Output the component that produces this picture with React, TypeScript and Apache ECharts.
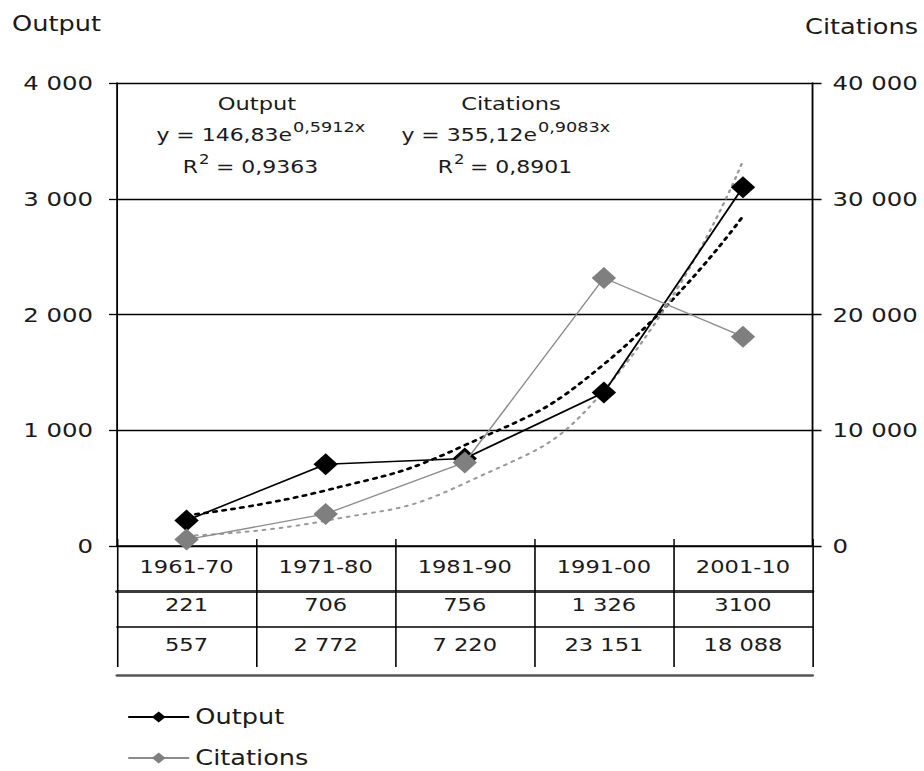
import React, { useEffect, useRef } from "react";
import * as echarts from "echarts";

// ---- data ----
const periods = ["1961-70", "1971-80", "1981-90", "1991-00", "2001-10"];
const outputValues = [221, 706, 756, 1326, 3100];
const citationValues = [557, 2772, 7220, 23151, 18088];
const outputTableLabels = ["221", "706", "756", "1 326", "3100"];
const citationTableLabels = ["557", "2 772", "7 220", "23 151", "18 088"];
// exponential trend lines as drawn in the picture
const outputTrend = [265, 480, 870, 1570, 2850];
const citationTrend = [880, 2180, 5420, 13430, 33300];
const leftTickLabels = ["0", "1 000", "2 000", "3 000", "4 000"];
const rightTickLabels = ["0", "10 000", "20 000", "30 000", "40 000"];

// the reference is horizontally stretched
const S = 1.22;
const W = 924 / S;
const px = (x: number) => x / S;
const FONT = "DejaVu Sans";

export default function App() {
  const ref = useRef<HTMLDivElement>(null);
  useEffect(() => {
    const chart = echarts.init(ref.current!, null, { renderer: "svg" });
    const txt = (
      text: string,
      x: number,
      y: number,
      size: number,
      align: string = "center"
    ) => ({
      type: "text",
      x,
      y,
      silent: true,
      style: {
        text,
        align,
        verticalAlign: "middle",
        fontFamily: FONT,
        fontSize: size,
        fill: "#1a1a1a",
      },
    });
    const tableAxis = (data: string[], offset: number, tickLen: number, margin: number, lineColor: string, lineWidth: number, showTick = true, showLabel = true) => ({
      type: "category",
      data,
      position: "bottom",
      offset,
      boundaryGap: true,
      axisLine: { show: true, lineStyle: { color: lineColor, width: lineWidth } },
      axisTick: { show: showTick, interval: 0, length: tickLen, lineStyle: { color: "#000", width: 1.3 } },
      axisLabel: { show: showLabel, interval: 0, margin, fontFamily: FONT, fontSize: 18.5, color: "#1a1a1a" },
      splitLine: { show: false },
    });
    chart.setOption({
      animation: false,
      backgroundColor: "#fff",
      grid: { left: px(117), right: W - px(813), top: 83, bottom: 225, containLabel: false },
      xAxis: [
        tableAxis(periods, 0, 45.7, 11.5, "#000", 1.5),
        {
          type: "category",
          data: periods,
          position: "bottom",
          offset: 0,
          axisLine: { show: false },
          axisTick: { show: true, inside: true, interval: 0, length: 7, lineStyle: { color: "#000", width: 1.2 } },
          axisLabel: { show: false },
          splitLine: { show: false },
        },
        tableAxis(outputTableLabels, 45.7, 35.3, 3.5, "#3a3a3a", 3),
        tableAxis(citationTableLabels, 81, 40, 8, "#000", 1.5),
        tableAxis(periods, 129, 0, 0, "#555", 2.5, false, false),
      ],
      yAxis: [
        {
          type: "value",
          position: "left",
          min: 0,
          max: 4000,
          interval: 1000,
          axisLine: { show: true, lineStyle: { color: "#000", width: 1.5 } },
          axisTick: { show: true, length: px(8), lineStyle: { color: "#000", width: 1.3 } },
          splitLine: { show: true, lineStyle: { color: "#000", width: 1.3 } },
          axisLabel: {
            margin: px(24),
            fontFamily: FONT,
            fontSize: 20,
            color: "#1a1a1a",
            formatter: (_v: number, i: number) => leftTickLabels[i],
          },
        },
        {
          type: "value",
          position: "right",
          min: 0,
          max: 40000,
          interval: 10000,
          axisLine: { show: true, lineStyle: { color: "#000", width: 1.5 } },
          axisTick: { show: true, length: px(9), lineStyle: { color: "#000", width: 1.3 } },
          splitLine: { show: false },
          axisLabel: {
            margin: px(20),
            fontFamily: FONT,
            fontSize: 20,
            color: "#1a1a1a",
            formatter: (_v: number, i: number) => rightTickLabels[i],
          },
        },
      ],
      legend: {
        data: ["Output", "Citations"],
        orient: "vertical",
        left: px(127),
        top: 706,
        padding: 0,
        itemWidth: px(61),
        itemHeight: 14,
        itemGap: 19,
        textStyle: { fontFamily: FONT, fontSize: 21, lineHeight: 22, color: "#1a1a1a" },
      },
      series: [
        {
          name: "Output trend",
          type: "line",
          data: outputTrend,
          smooth: true,
          symbol: "none",
          silent: true,
          lineStyle: { color: "#000", width: 2.6, type: [2.5, 5], cap: "round" },
          z: 2,
        },
        {
          name: "Citations trend",
          type: "line",
          yAxisIndex: 1,
          data: citationTrend,
          smooth: true,
          symbol: "none",
          silent: true,
          lineStyle: { color: "#9a9a9a", width: 2, type: [2, 5], cap: "round" },
          z: 2,
        },
        {
          name: "Output",
          type: "line",
          data: outputValues,
          symbol: "diamond",
          symbolSize: [20, 22],
          itemStyle: { color: "#000" },
          lineStyle: { color: "#000", width: 1.6 },
          z: 3,
        },
        {
          name: "Citations",
          type: "line",
          yAxisIndex: 1,
          data: citationValues,
          symbol: "diamond",
          symbolSize: [20, 22],
          itemStyle: { color: "#7f7f7f" },
          lineStyle: { color: "#8c8c8c", width: 1.3 },
          z: 4,
        },
      ],
      graphic: [
        txt("Output", px(12), 24, 21, "left"),
        txt("Citations", px(805), 27, 21, "left"),
        // Output trend equation
        txt("Output", px(257), 104, 18.5),
        txt("y = 146,83e", px(292), 135, 18, "right"),
        txt("0,5912x", px(293), 127, 14.5, "left"),
        txt("R", px(198), 167, 18, "right"),
        txt("2", px(199), 160, 13.5, "left"),
        txt("= 0,9363", px(216), 167, 18, "left"),
        // Citations trend equation
        txt("Citations", px(511), 104, 18.5),
        txt("y = 355,12e", px(537), 135, 18, "right"),
        txt("0,9083x", px(538), 127, 14.5, "left"),
        txt("R", px(453), 167, 18, "right"),
        txt("2", px(454), 160, 13.5, "left"),
        txt("= 0,8901", px(470), 167, 18, "left"),
      ],
    });
    return () => chart.dispose();
  }, []);
  return (
    <div style={{ position: "absolute", left: 0, top: 0, width: 924, height: 771, overflow: "hidden", background: "#fff" }}>
      <div
        ref={ref}
        style={{ width: W, height: 771, transform: `scaleX(${S})`, transformOrigin: "0 0" }}
      />
    </div>
  );
}
